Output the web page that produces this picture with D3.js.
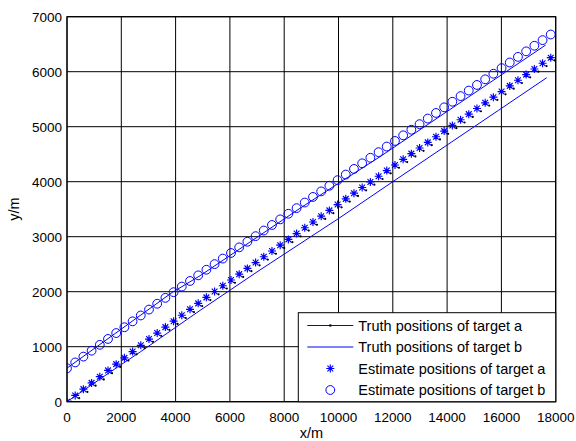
<!DOCTYPE html>
<html><head><meta charset="utf-8">
<script src="https://cdn.jsdelivr.net/npm/d3@7"></script>
<style>body{margin:0;background:#fff}</style>
</head><body>
<svg id="c" width="576" height="441"></svg>
<script>
// ---- data ----
const xTicks = [0,2000,4000,6000,8000,10000,12000,14000,16000,18000];
const yTicks = [0,1000,2000,3000,4000,5000,6000,7000];

// estimate x positions (m)
const estX = [0,302,604,906,1208,1510,1812,2114,2416,2718,3020,3322,3624,3926,4228,4530,4832,5134,5436,5738,
  6040,6342,6644,6946,7248,7550,7852,8154,8456,8758,9060,9362,9664,9966,10268,10570,10872,11174,11476,11778,
  12080,12382,12684,12986,13288,13590,13892,14194,14496,14798,15100,15402,15704,16006,16308,16610,16912,17214,17516,17818];
// estimate positions of target a (y, m)
const estAY = [0,114,228,342,455,569,683,797,911,1025,1139,1248,1356,1464,1572,1680,1788,1897,2003,2108,
  2213,2319,2424,2530,2635,2740,2846,2951,3057,3162,3267,3373,3478,3584,3688,3791,3894,3996,4099,4202,
  4304,4407,4510,4612,4715,4818,4920,5023,5126,5228,5331,5434,5537,5639,5742,5845,5947,6050,6153,6255];
// estimate positions of target b (y, m)
const estBY = [607,714,820,927,1034,1141,1248,1354,1461,1568,1675,1781,1888,1991,2093,2195,2297,2399,2501,2602,
  2704,2806,2908,3010,3112,3213,3315,3417,3519,3621,3723,3824,3926,4028,4130,4232,4334,4435,4537,4639,
  4741,4843,4945,5046,5148,5250,5352,5454,5556,5657,5759,5861,5963,6065,6167,6269,6370,6472,6574,6676];
// truth positions of target a (point markers)
const truthAX = [147,449,751,1053,1355,1657,1959,2261,2563,2865,3167,3469,3771,4073,4375,4677,4979,5281,5583,5885,
  6187,6489,6791,7093,7395,7697,7999,8301,8603,8905,9207,9509,9811,10113,10415,10717,11019,11321,11623,11925,
  12227,12529,12831,13133,13435,13737,14039,14341,14643,14945,15247,15549,15851,16153,16455,16757,17059,17361,17663,17965];
const truthAY = [0,64,178,292,405,519,633,747,861,975,1089,1198,1306,1414,1522,1630,1738,1847,1953,2058,
  2163,2269,2374,2480,2585,2690,2796,2901,3007,3112,3217,3323,3428,3534,3638,3741,3844,3946,4049,4152,
  4254,4357,4460,4562,4665,4768,4870,4973,5076,5178,5281,5384,5487,5589,5692,5795,5897,6000,6103,6205];
// truth positions of target b (solid line near circles)
const truthBX = [0,3870,4900,8580,10000,11530,17630];
const truthBY = [610,1985,2290,3516,3971,4455,6485];
// lower solid line
const lowerX = [0,1950,2700,4900,7000,10000,12300,15900,17670];
const lowerY = [0,660,905,1660,2360,3330,4100,5300,5891];

const legendLabels = ["Truth positions of target a","Truth positions of target b",
  "Estimate positions of target a","Estimate positions of target b"];

// ---- drawing ----
const svg = d3.select("#c");
const FONT = "'Liberation Sans', Arial, sans-serif";
const BLUE = "#0000ff";
const x = d3.scaleLinear().domain([0,18000]).range([67,555.7]);
const y = d3.scaleLinear().domain([0,7000]).range([401.7,16.7]);

svg.append("rect").attr("width",576).attr("height",441).attr("fill","#fff");

// grid
const g = svg.append("g").attr("stroke","#000").attr("stroke-width",1);
xTicks.forEach(t => g.append("line").attr("x1",x(t)).attr("x2",x(t)).attr("y1",y(0)).attr("y2",y(7000)));
yTicks.forEach(t => g.append("line").attr("x1",x(0)).attr("x2",x(18000)).attr("y1",y(t)).attr("y2",y(t)));

svg.append("defs").append("clipPath").attr("id","clip").append("rect")
  .attr("x",x(0)).attr("y",y(7000)).attr("width",x(18000)-x(0)).attr("height",y(0)-y(7000));
const plot = svg.append("g").attr("clip-path","url(#clip)");

const line = d3.line().x(d=>x(d[0])).y(d=>y(d[1]));
plot.append("path").attr("d",line(truthBX.map((v,i)=>[v,truthBY[i]])))
  .attr("fill","none").attr("stroke",BLUE).attr("stroke-width",1);
plot.append("path").attr("d",line(lowerX.map((v,i)=>[v,lowerY[i]])))
  .attr("fill","none").attr("stroke",BLUE).attr("stroke-width",1);

function starPath(cx,cy,r){
  const d=r*0.72;
  return `M${cx-r},${cy}L${cx+r},${cy}M${cx},${cy-r}L${cx},${cy+r}`+
         `M${cx-d},${cy-d}L${cx+d},${cy+d}M${cx-d},${cy+d}L${cx+d},${cy-d}`;
}

// estimate a stars
plot.append("g").selectAll("path").data(estX).join("path")
  .attr("d",(v,i)=>starPath(x(v),y(estAY[i]),4))
  .attr("stroke",BLUE).attr("stroke-width",1.15).attr("fill","none");
// truth a dots
plot.append("g").selectAll("circle").data(truthAX).join("circle")
  .attr("cx",v=>x(v)).attr("cy",(v,i)=>y(truthAY[i])).attr("r",1.1).attr("fill","#000");
// estimate b circles
plot.append("g").selectAll("circle").data(estX).join("circle")
  .attr("cx",v=>x(v)).attr("cy",(v,i)=>y(estBY[i])).attr("r",4.4)
  .attr("fill","none").attr("stroke",BLUE).attr("stroke-width",1);

// frame
svg.append("rect").attr("x",x(0)).attr("y",y(7000)).attr("width",x(18000)-x(0)).attr("height",y(0)-y(7000))
  .attr("fill","none").attr("stroke","#000").attr("stroke-width",1.2);

// tick labels
svg.append("g").selectAll("text").data(xTicks).join("text")
  .attr("x",t=>x(t)).attr("y",421.5).attr("text-anchor","middle")
  .attr("font-family",FONT).attr("font-size",13.5).attr("fill","#000").text(t=>t);
svg.append("g").selectAll("text").data(yTicks).join("text")
  .attr("x",62).attr("y",t=>y(t)).attr("dy","0.36em").attr("text-anchor","end")
  .attr("font-family",FONT).attr("font-size",13.5).attr("fill","#000").text(t=>t);

// axis labels
svg.append("text").attr("x",(x(0)+x(18000))/2).attr("y",437.5).attr("text-anchor","middle")
  .attr("font-family",FONT).attr("font-size",14.5).text("x/m");
svg.append("text").attr("transform",`translate(19,${(y(0)+y(7000))/2}) rotate(-90)`)
  .attr("text-anchor","middle").attr("font-family",FONT).attr("font-size",14.5).text("y/m");

// legend
const lg = svg.append("g");
lg.append("rect").attr("x",298.3).attr("y",312.7).attr("width",555.7-298.3).attr("height",401.7-312.7)
  .attr("fill","#fff").attr("stroke","#000").attr("stroke-width",1);
const rowY = [325.5,347,368.5,390];
const sx1=307.3, sx2=353.3, sm=330.3;
legendLabels.forEach((lab,i)=>{
  const ry = rowY[i];
  if(i<2){
    lg.append("line").attr("x1",sx1).attr("x2",sx2).attr("y1",ry).attr("y2",ry)
      .attr("stroke",BLUE).attr("stroke-width",1);
  }
  if(i===0) lg.append("circle").attr("cx",sm).attr("cy",ry).attr("r",1.3).attr("fill","#000033");
  if(i===2) lg.append("path").attr("d",starPath(sm,ry,4)).attr("stroke",BLUE).attr("stroke-width",1.15).attr("fill","none");
  if(i===3) lg.append("circle").attr("cx",sm).attr("cy",ry).attr("r",4.4).attr("fill","none").attr("stroke",BLUE).attr("stroke-width",1);
  lg.append("text").attr("x",358.3).attr("y",ry).attr("dy","0.36em")
    .attr("font-family",FONT).attr("font-size",14.5).attr("fill","#000").text(lab);
});
</script>
</body></html>
